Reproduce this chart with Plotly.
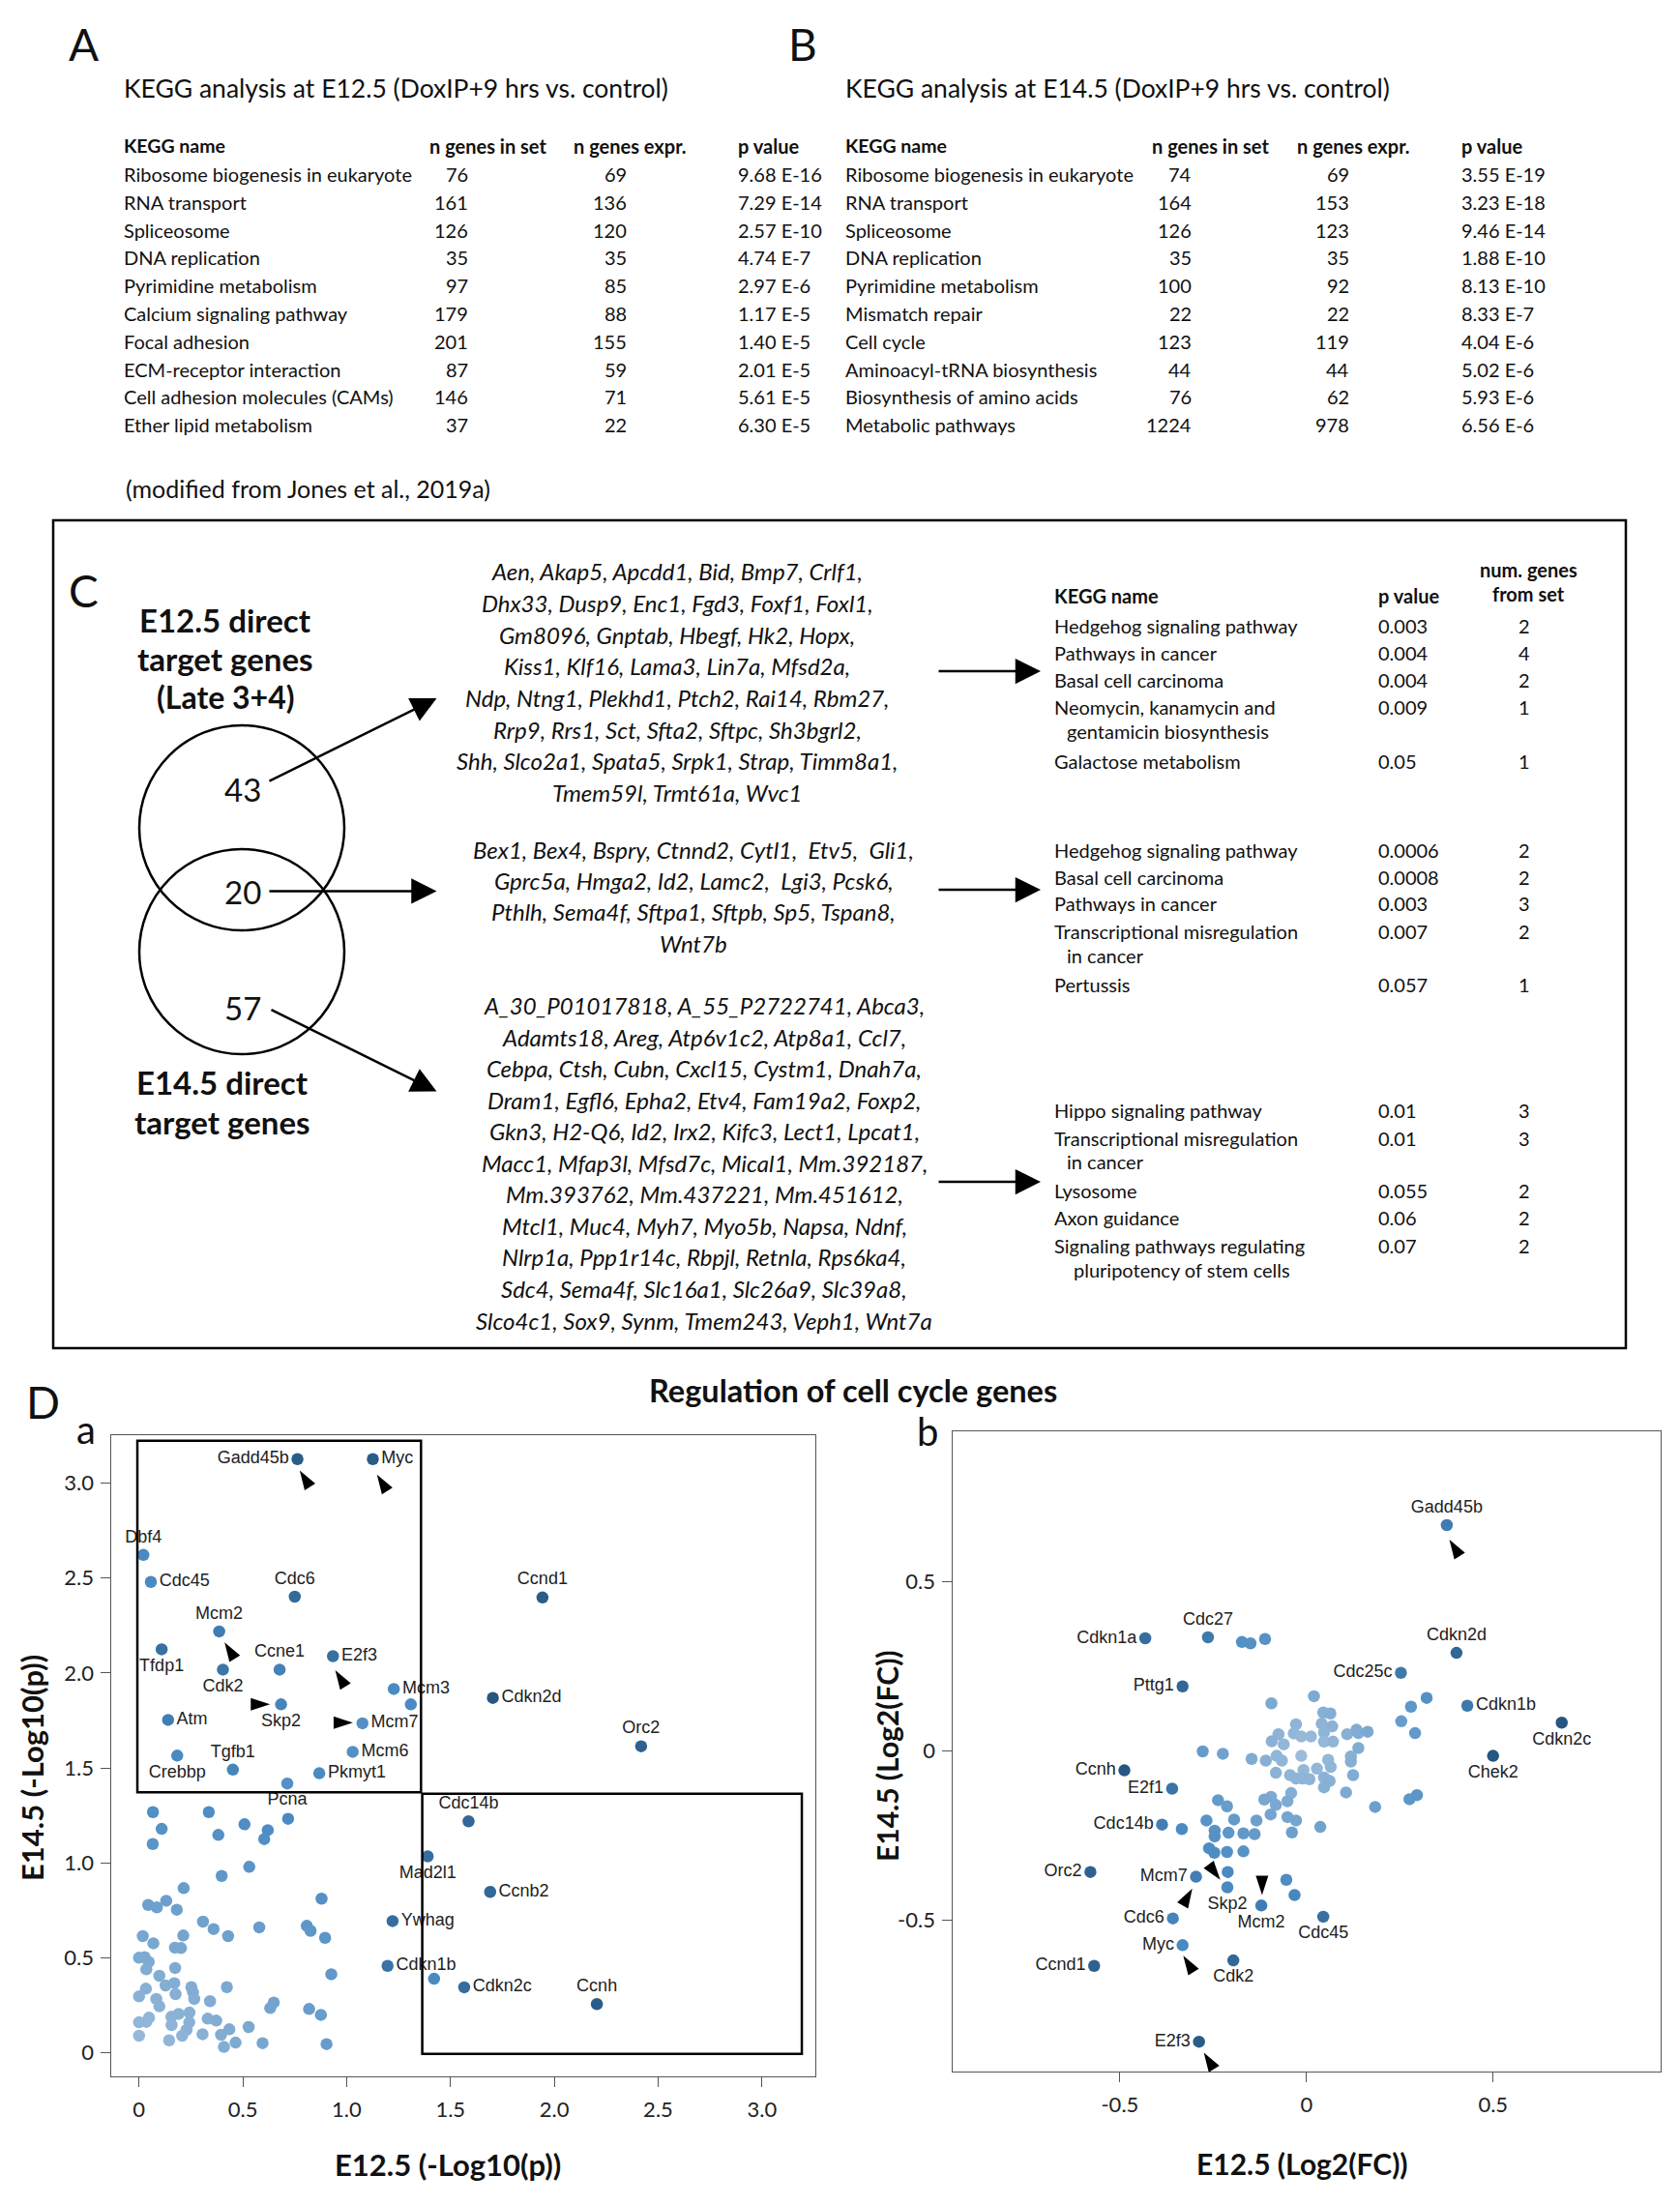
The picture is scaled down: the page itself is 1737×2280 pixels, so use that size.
import plotly.graph_objects as go
import numpy as np

W, H = 1737, 2280
FONT = "Lato"
LFONT = "Liberation Sans"

# ---------------- DATA ----------------
kegg_a_names = ["Ribosome biogenesis in eukaryote", "RNA transport", "Spliceosome", "DNA replication",
                "Pyrimidine metabolism", "Calcium signaling pathway", "Focal adhesion",
                "ECM-receptor interaction", "Cell adhesion molecules (CAMs)", "Ether lipid metabolism"]
kegg_a_nset = [76, 161, 126, 35, 97, 179, 201, 87, 146, 37]
kegg_a_nexpr = [69, 136, 120, 35, 85, 88, 155, 59, 71, 22]
kegg_a_p = ["9.68 E-16", "7.29 E-14", "2.57 E-10", "4.74 E-7", "2.97 E-6", "1.17 E-5", "1.40 E-5",
            "2.01 E-5", "5.61 E-5", "6.30 E-5"]

kegg_b_names = ["Ribosome biogenesis in eukaryote", "RNA transport", "Spliceosome", "DNA replication",
                "Pyrimidine metabolism", "Mismatch repair", "Cell cycle", "Aminoacyl-tRNA biosynthesis",
                "Biosynthesis of amino acids", "Metabolic pathways"]
kegg_b_nset = [74, 164, 126, 35, 100, 22, 123, 44, 76, 1224]
kegg_b_nexpr = [69, 153, 123, 35, 92, 22, 119, 44, 62, 978]
kegg_b_p = ["3.55 E-19", "3.23 E-18", "9.46 E-14", "1.88 E-10", "8.13 E-10", "8.33 E-7", "4.04 E-6",
            "5.02 E-6", "5.93 E-6", "6.56 E-6"]

venn_counts = [43, 20, 57]

genes_43 = ["Aen, Akap5, Apcdd1, Bid, Bmp7, Crlf1,",
            "Dhx33, Dusp9, Enc1, Fgd3, Foxf1, Foxl1,",
            "Gm8096, Gnptab, Hbegf, Hk2, Hopx,",
            "Kiss1, Klf16, Lama3, Lin7a, Mfsd2a,",
            "Ndp, Ntng1, Plekhd1, Ptch2, Rai14, Rbm27,",
            "Rrp9, Rrs1, Sct, Sfta2, Sftpc, Sh3bgrl2,",
            "Shh, Slco2a1, Spata5, Srpk1, Strap, Timm8a1,",
            "Tmem59l, Trmt61a, Wvc1"]
genes_20 = ["Bex1, Bex4, Bspry, Ctnnd2, Cytl1,  Etv5,  Gli1,",
            "Gprc5a, Hmga2, Id2, Lamc2,  Lgi3, Pcsk6,",
            "Pthlh, Sema4f, Sftpa1, Sftpb, Sp5, Tspan8,",
            "Wnt7b"]
genes_57 = ["A_30_P01017818, A_55_P2722741, Abca3,",
            "Adamts18, Areg, Atp6v1c2, Atp8a1, Ccl7,",
            "Cebpa, Ctsh, Cubn, Cxcl15, Cystm1, Dnah7a,",
            "Dram1, Egfl6, Epha2, Etv4, Fam19a2, Foxp2,",
            "Gkn3, H2-Q6, Id2, Irx2, Kifc3, Lect1, Lpcat1,",
            "Macc1, Mfap3l, Mfsd7c, Mical1, Mm.392187,",
            "Mm.393762, Mm.437221, Mm.451612,",
            "Mtcl1, Muc4, Myh7, Myo5b, Napsa, Ndnf,",
            "Nlrp1a, Ppp1r14c, Rbpjl, Retnla, Rps6ka4,",
            "Sdc4, Sema4f, Slc16a1, Slc26a9, Slc39a8,",
            "Slco4c1, Sox9, Synm, Tmem243, Veph1, Wnt7a"]

c1_names = ["Hedgehog signaling pathway", "Pathways in cancer", "Basal cell carcinoma",
            "Neomycin, kanamycin and|gentamicin biosynthesis", "Galactose metabolism"]
c1_p = ["0.003", "0.004", "0.004", "0.009", "0.05"]
c1_n = [2, 4, 2, 1, 1]
c2_names = ["Hedgehog signaling pathway", "Basal cell carcinoma", "Pathways in cancer",
            "Transcriptional misregulation|in cancer", "Pertussis"]
c2_p = ["0.0006", "0.0008", "0.003", "0.007", "0.057"]
c2_n = [2, 2, 3, 2, 1]
c3_names = ["Hippo signaling pathway", "Transcriptional misregulation|in cancer", "Lysosome",
            "Axon guidance", "Signaling pathways regulating|pluripotency of stem cells"]
c3_p = ["0.01", "0.01", "0.055", "0.06", "0.07"]
c3_n = [3, 3, 2, 2, 2]

# Panel D a : E12.5 vs E14.5 (-log10 p)
a_labels = ["Gadd45b", "Myc", "Dbf4", "Cdc45", "Cdc6", "Ccnd1", "Mcm2", "Tfdp1", "Ccne1", "Cdk2",
            "E2f3", "Mcm3", "Cdkn2d", "Skp2", "Atm", "Mcm7", "Orc2", "Mcm6", "Crebbp", "Tgfb1",
            "Pkmyt1", "Pcna", "Cdc14b", "Mad2l1", "Ccnb2", "Ywhag", "Cdkn1b", "Cdkn2c", "Ccnh"]
a_x = [0.763, 1.126, 0.021, 0.057, 0.750, 1.943, 0.386, 0.109, 0.677, 0.404,
       0.934, 1.227, 1.704, 0.684, 0.140, 1.076, 2.418, 1.029, 0.184, 0.452,
       0.868, 0.714, 1.587, 1.390, 1.691, 1.221, 1.197, 1.566, 2.205]
a_y = [3.127, 3.127, 2.622, 2.480, 2.402, 2.398, 2.219, 2.125, 2.018, 2.018,
       2.089, 1.916, 1.869, 1.835, 1.753, 1.735, 1.614, 1.585, 1.565, 1.491,
       1.472, 1.418, 1.219, 1.034, 0.847, 0.693, 0.457, 0.344, 0.256]
a_bg_x = [0.067, 0.336, 0.109, 0.066, 0.382, 0.508, 0.620, 0.603, 0.718, 0.531,
          0.398, 0.215, 0.879, 0.044, 0.086, 0.131, 0.182, 0.308, 0.359, 0.429,
          0.579, 0.808, 0.826, 0.896, 0.018, 0.069, 0.213, 0.173, 0.202, 0.000,
          0.027, 0.047, 0.035, 0.174, 0.098, 0.926, 0.033, 0.128, 0.170, 0.252,
          0.423, 0.000, 0.176, 0.260, 0.083, 0.266, 0.342, 0.098, 0.649, 0.632,
          0.819, 0.876, 0.000, 0.048, 0.035, 0.156, 0.191, 0.243, 0.157, 0.242,
          0.331, 0.372, 0.229, 0.208, 0.000, 0.145, 0.306, 0.395, 0.435, 0.528,
          0.409, 0.465, 0.595, 0.903, 1.309, 1.421]
a_bg_y = [1.267, 1.267, 1.179, 1.099, 1.147, 1.203, 1.172, 1.125, 1.232, 0.979,
          0.931, 0.867, 0.811, 0.778, 0.765, 0.800, 0.753, 0.690, 0.651, 0.614,
          0.660, 0.668, 0.642, 0.605, 0.614, 0.576, 0.617, 0.553, 0.551, 0.500,
          0.503, 0.478, 0.439, 0.446, 0.405, 0.413, 0.337, 0.354, 0.366, 0.345,
          0.345, 0.296, 0.308, 0.318, 0.283, 0.283, 0.271, 0.244, 0.264, 0.235,
          0.230, 0.199, 0.160, 0.184, 0.162, 0.189, 0.204, 0.211, 0.145, 0.160,
          0.179, 0.169, 0.120, 0.089, 0.089, 0.065, 0.097, 0.094, 0.123, 0.135,
          0.030, 0.053, 0.050, 0.045, 1.835, 0.389]

# Panel D b : E12.5 vs E14.5 (log2 FC)
b_labels = ["Gadd45b", "Cdkn1a", "Cdc27", "Cdkn2d", "Cdc25c", "Pttg1", "Cdkn1b", "Cdkn2c", "Chek2",
            "Ccnh", "E2f1", "Cdc14b", "Orc2", "Mcm7", "Skp2", "Mcm2", "Cdc45", "Cdc6", "Myc",
            "Ccnd1", "Cdk2", "E2f3"]
b_x = [0.376, -0.432, -0.264, 0.402, 0.253, -0.332, 0.431, 0.684, 0.500,
       -0.488, -0.360, -0.387, -0.579, -0.296, -0.212, -0.121, 0.045, -0.358, -0.332,
       -0.569, -0.196, -0.288]
b_y = [0.667, 0.333, 0.336, 0.290, 0.231, 0.191, 0.134, 0.084, -0.014,
       -0.057, -0.111, -0.217, -0.357, -0.371, -0.402, -0.456, -0.489, -0.494, -0.573,
       -0.634, -0.618, -0.858]
b_bg_x = [-0.094, 0.020, 0.322, 0.280, 0.254, 0.291, 0.045, 0.064, -0.028, 0.041,
          0.069, -0.075, -0.034, -0.014, 0.012, 0.047, 0.047, 0.071, 0.109, 0.134,
          0.139, 0.164, -0.093, -0.061, 0.139, -0.278, -0.224, -0.147, -0.109, -0.080,
          -0.066, -0.014, 0.119, 0.119, 0.058, -0.082, -0.044, -0.008, -0.028, -0.011,
          0.008, 0.028, 0.065, 0.047, 0.062, 0.047, 0.125, 0.106, -0.041, -0.051,
          -0.095, -0.113, -0.082, -0.237, -0.213, -0.096, -0.051, -0.028, -0.268, -0.194,
          -0.134, -0.246, -0.246, -0.209, -0.169, -0.139, -0.039, 0.037, 0.184, 0.276,
          0.296, -0.261, -0.247, -0.213, -0.169, -0.211, -0.334, -0.054, -0.032, -0.173,
          -0.150, -0.111]
b_bg_y = [0.141, 0.162, 0.157, 0.131, 0.088, 0.053, 0.114, 0.111, 0.079, 0.081,
          0.073, 0.050, 0.052, 0.043, 0.043, 0.055, 0.028, 0.028, 0.050, 0.063,
          0.053, 0.057, 0.029, 0.020, 0.009, -0.001, -0.008, -0.023, -0.028, -0.014,
          -0.028, -0.014, -0.016, -0.031, -0.026, -0.064, -0.071, -0.056, -0.081, -0.081,
          -0.083, -0.052, -0.047, -0.078, -0.088, -0.107, -0.071, -0.122, -0.124, -0.148,
          -0.135, -0.143, -0.159, -0.145, -0.163, -0.187, -0.195, -0.205, -0.205, -0.202,
          -0.205, -0.235, -0.252, -0.241, -0.243, -0.245, -0.240, -0.224, -0.165, -0.142,
          -0.130, -0.287, -0.300, -0.298, -0.296, -0.357, -0.230, -0.380, -0.425, 0.322,
          0.318, 0.331]

a_ticks = [0, 0.5, 1.0, 1.5, 2.0, 2.5, 3.0]
a_ticktext = ["0", "0.5", "1.0", "1.5", "2.0", "2.5", "3.0"]
b_ticks = [-0.5, 0, 0.5]
b_ticktext = ["-0.5", "0", "0.5"]

# ---------------- STYLE ----------------
a_shade = [0.9, 0.9, 0.5, 0.5, 0.78, 0.9, 0.62, 0.72, 0.58, 0.68,
           0.72, 0.5, 0.95, 0.55, 0.6, 0.45, 0.85, 0.45, 0.5, 0.55,
           0.5, 0.45, 0.8, 0.75, 0.8, 0.75, 0.7, 0.75, 0.9]
b_shade = [0.62, 0.75, 0.65, 0.8, 0.65, 0.8, 0.65, 0.95, 0.95, 0.95, 0.7, 0.6, 0.85,
           0.6, 0.5, 0.62, 0.72, 0.55, 0.5, 0.85, 0.8, 0.9]
a_textpos = ['middle left', 'middle right', 'top center', 'middle right', 'top center', 'top center',
             'top center', 'bottom center', 'top center', 'bottom center', 'middle right', 'middle right',
             'middle right', 'bottom center', 'middle right', 'middle right', 'top center', 'middle right',
             'bottom center', 'top center', 'middle right', 'bottom center', 'top center', 'bottom center',
             'middle right', 'middle right', 'middle right', 'middle right', 'top center']
b_textpos = ['top center', 'middle left', 'top center', 'top center', 'middle left', 'middle left',
             'middle right', 'bottom center', 'bottom center', 'middle left', 'middle left', 'middle left',
             'middle left', 'middle left', 'bottom center', 'bottom center', 'bottom center', 'middle left',
             'middle left', 'middle left', 'bottom center', 'middle left']
# arrowhead tips (marker 'arrow' is drawn with its tip on the given point)
a_arrow_x = [0.774, 1.146, 0.412, 0.945, 0.631, 1.030]
a_arrow_y = [3.067, 3.045, 2.162, 2.015, 1.835, 1.738]
a_arrow_ang = [-32, -32, -32, -32, 90, 90]
b_arrow_x = [0.383, -0.231, -0.306, -0.119, -0.330, -0.275]
b_arrow_y = [0.624, -0.380, -0.406, -0.425, -0.604, -0.890]
b_arrow_ang = [-32, 143, 30, 180, -32, -32]

CSCALE = [[0, '#a9c5df'], [0.5, '#4a8ac2'], [1, '#22507a']]


def px(x):
    return x / W


def py(y):
    return 1 - y / H


ann = []
shapes = []


def T(x, y, s, size=19, bold=False, italic=False, xa='left', ya='middle', family=FONT,
      color='#111', angle=0):
    if bold:
        s = "<b>" + s + "</b>"
    if italic:
        s = "<i>" + s + "</i>"
    ann.append(dict(x=px(x), y=py(y), xref='paper', yref='paper', text=s, showarrow=False,
                    xanchor=xa, yanchor=ya, textangle=angle,
                    font=dict(size=size, family=family, color=color)))


def ARROW(tx, ty, sx, sy):
    ann.append(dict(x=px(tx), y=py(ty), xref='paper', yref='paper', ax=sx - tx, ay=sy - ty,
                    axref='pixel', ayref='pixel', text='', showarrow=True, arrowhead=2,
                    arrowsize=2.1, arrowwidth=2.5, arrowcolor='black'))


# ---------------- Panels A & B ----------------
row_y = [180 + i * 28.8 for i in range(10)]
T(86, 46, "A", size=46, xa='center')
T(830, 46, "B", size=46, xa='center')
for (x0, title, names, nset, nexpr, pv, hx, r1, r2) in [
        (125.5, "KEGG analysis at E12.5 (DoxIP+9 hrs vs. control)", kegg_a_names, kegg_a_nset,
         kegg_a_nexpr, kegg_a_p, (442, 591, 761), 486, 650),
        (872, "KEGG analysis at E14.5 (DoxIP+9 hrs vs. control)", kegg_b_names, kegg_b_nset,
         kegg_b_nexpr, kegg_b_p, (1189, 1339, 1509), 1234, 1397)]:
    T(x0, 91, title, size=26.5)
    T(x0, 150.7, "KEGG name", size=19.5, bold=True)
    T(hx[0], 150.7, "n genes in set", size=20, bold=True)
    T(hx[1], 150.7, "n genes expr.", size=20, bold=True)
    T(hx[2], 150.7, "p value", size=20, bold=True)
    for i in range(10):
        T(x0, row_y[i], names[i], size=20)
        T(r1, row_y[i], str(nset[i]), size=20, xa='right')
        T(r2, row_y[i], str(nexpr[i]), size=20, xa='right')
        T(hx[2], row_y[i], pv[i], size=20)
T(128, 504.6, "(modified from Jones et al., 2019a)", size=25)

# ---------------- Panel C ----------------
shapes.append(dict(type='rect', xref='paper', yref='paper', x0=px(55), x1=px(1681), y0=py(1394), y1=py(538),
                   line=dict(color='black', width=2.5)))
T(86, 610, "C", size=46, xa='center')
T(233, 641, "E12.5 direct", size=33, bold=True, xa='center')
T(233, 681, "target genes", size=33, bold=True, xa='center')
T(233, 721, "(Late 3+4)", size=32, bold=True, xa='center')
T(230, 1118.5, "E14.5 direct", size=33, bold=True, xa='center')
T(230, 1160, "target genes", size=33, bold=True, xa='center')
for cy in (856, 984):
    shapes.append(dict(type='circle', xref='paper', yref='paper', x0=px(250 - 106), x1=px(250 + 106),
                       y0=py(cy + 106), y1=py(cy - 106), line=dict(color='black', width=2.5)))
T(251, 815.6, str(venn_counts[0]), size=33, xa='center')
T(251, 922.5, str(venn_counts[1]), size=33, xa='center')
T(251, 1042, str(venn_counts[2]), size=33, xa='center')
ARROW(451.5, 722, 277, 808.4)
ARROW(451.5, 921.4, 277, 921.4)
ARROW(451.5, 1128.6, 279, 1043.4)

for i, line in enumerate(genes_43):
    T(700, 591 + i * 32.6, line, size=24, italic=True, xa='center')
for i, line in enumerate(genes_20):
    T(717, 878 + i * 32.4, line, size=24, italic=True, xa='center')
for i, line in enumerate(genes_57):
    T(728, 1039.5 + i * 32.55, line, size=24, italic=True, xa='center')

for y in (694, 920, 1222):
    ARROW(1076, y, 969, y)

T(1088, 616, "KEGG name", size=20, bold=True)
T(1422.6, 616, "p value", size=20, bold=True)
T(1580, 589, "num. genes", size=20, bold=True, xa='center')
T(1580, 614, "from set", size=20, bold=True, xa='center')
for names, pv, nn, ys in [(c1_names, c1_p, c1_n, [646.5, 674.5, 702.5, 730.5, 786.5]),
                          (c2_names, c2_p, c2_n, [878.5, 907, 933.5, 962.5, 1018.5]),
                          (c3_names, c3_p, c3_n, [1147.5, 1176.5, 1231, 1259, 1287.5])]:
    for i in range(5):
        parts = names[i].split("|")
        T(1088, ys[i], parts[0], size=20)
        if len(parts) > 1:
            T(1088 + (20 if "pluri" in parts[1] else 13), ys[i] + 25, parts[1], size=20)
        T(1422.6, ys[i], pv[i], size=20)
        T(1576, ys[i], str(nn[i]), size=20, xa='center')

# ---------------- Panel D ----------------
T(44.6, 1449, "D", size=46, xa='center')
T(669, 1437, "Regulation of cell cycle genes", size=32.5, bold=True)
T(89, 1478, "a", size=40, xa='center')
T(959, 1480, "b", size=40, xa='center')
T(463, 2238, "E12.5 (-Log10(p))", size=31, bold=True, xa='center')
T(33, 1828, "E14.5 (-Log10(p))", size=31, bold=True, xa='center', angle=-90)
T(1346, 2237, "E12.5 (Log2(FC))", size=30, bold=True, xa='center')
T(917, 1815, "E14.5 (Log2(FC))", size=30, bold=True, xa='center', angle=-90)

fig = go.Figure()

a_bg_shade = [float(np.clip(0.08 + 0.3 * np.hypot(x, y), 0.08, 0.5)) for x, y in zip(a_bg_x, a_bg_y)]
b_bg_shade = [float(np.clip(0.05 + 1.1 * np.hypot(x, y), 0.05, 0.6)) for x, y in zip(b_bg_x, b_bg_y)]

MS = 12.5
fig.add_trace(go.Scatter(x=a_bg_x, y=a_bg_y, mode='markers', xaxis='x', yaxis='y',
                         marker=dict(size=MS, color=a_bg_shade, colorscale=CSCALE, cmin=0, cmax=1),
                         hoverinfo='skip'))
fig.add_trace(go.Scatter(x=a_x, y=a_y, mode='markers+text', text=a_labels, textposition=a_textpos,
                         xaxis='x', yaxis='y',
                         textfont=dict(family=LFONT, size=18, color='#222'),
                         marker=dict(size=MS, color=a_shade, colorscale=CSCALE, cmin=0, cmax=1)))
fig.add_trace(go.Scatter(x=a_arrow_x, y=a_arrow_y, mode='markers', xaxis='x', yaxis='y', cliponaxis=False,
                         marker=dict(symbol='arrow', size=21, angle=a_arrow_ang, color='black'),
                         hoverinfo='skip'))
fig.add_trace(go.Scatter(x=b_bg_x, y=b_bg_y, mode='markers', xaxis='x2', yaxis='y2',
                         marker=dict(size=MS, color=b_bg_shade, colorscale=CSCALE, cmin=0, cmax=1),
                         hoverinfo='skip'))
fig.add_trace(go.Scatter(x=b_x, y=b_y, mode='markers+text', text=b_labels, textposition=b_textpos,
                         xaxis='x2', yaxis='y2',
                         textfont=dict(family=LFONT, size=18, color='#222'),
                         marker=dict(size=MS, color=b_shade, colorscale=CSCALE, cmin=0, cmax=1)))
fig.add_trace(go.Scatter(x=b_arrow_x, y=b_arrow_y, mode='markers', xaxis='x2', yaxis='y2', cliponaxis=False,
                         marker=dict(symbol='arrow', size=21, angle=b_arrow_ang, color='black'),
                         hoverinfo='skip'))

shapes.append(dict(type='rect', xref='x', yref='y', x0=-0.008, x1=1.358, y0=1.372, y1=3.224,
                   line=dict(color='black', width=2.5)))
shapes.append(dict(type='rect', xref='x', yref='y', x0=1.364, x1=3.192, y0=-0.006, y1=1.364,
                   line=dict(color='black', width=2.5)))

axcommon = dict(showgrid=False, zeroline=False, showline=True, linecolor='#555', linewidth=1,
                mirror=True, ticks='outside', ticklen=10, tickcolor='#555',
                tickfont=dict(family=FONT, size=22, color='#222'))

fig.update_layout(
    width=W, height=H, margin=dict(l=0, r=0, t=0, b=0),
    paper_bgcolor='white', plot_bgcolor='white', showlegend=False,
    xaxis=dict(domain=[px(115.4), px(843)], range=[-0.132, 3.257], tickvals=a_ticks, ticktext=a_ticktext,
               anchor='y', ticklabelstandoff=5, **axcommon),
    yaxis=dict(domain=[py(2147), py(1484)], range=[-0.125, 3.253], tickvals=a_ticks, ticktext=a_ticktext,
               anchor='x', ticklabelstandoff=3, **axcommon),
    xaxis2=dict(domain=[px(985.4), px(1716.6)], range=[-0.947, 0.948], tickvals=b_ticks,
                ticktext=b_ticktext, anchor='y2', ticklabelstandoff=5, **axcommon),
    yaxis2=dict(domain=[py(2142), py(1480)], range=[-0.946, 0.944], tickvals=b_ticks,
                ticktext=b_ticktext, anchor='x2', ticklabelstandoff=3, **axcommon),
    annotations=ann, shapes=shapes,
    font=dict(family=FONT, color='#111'),
)

fig.write_html("out.html", config={'displayModeBar': False},
               post_script="document.body.style.margin='0px';document.body.style.overflow='hidden';")
